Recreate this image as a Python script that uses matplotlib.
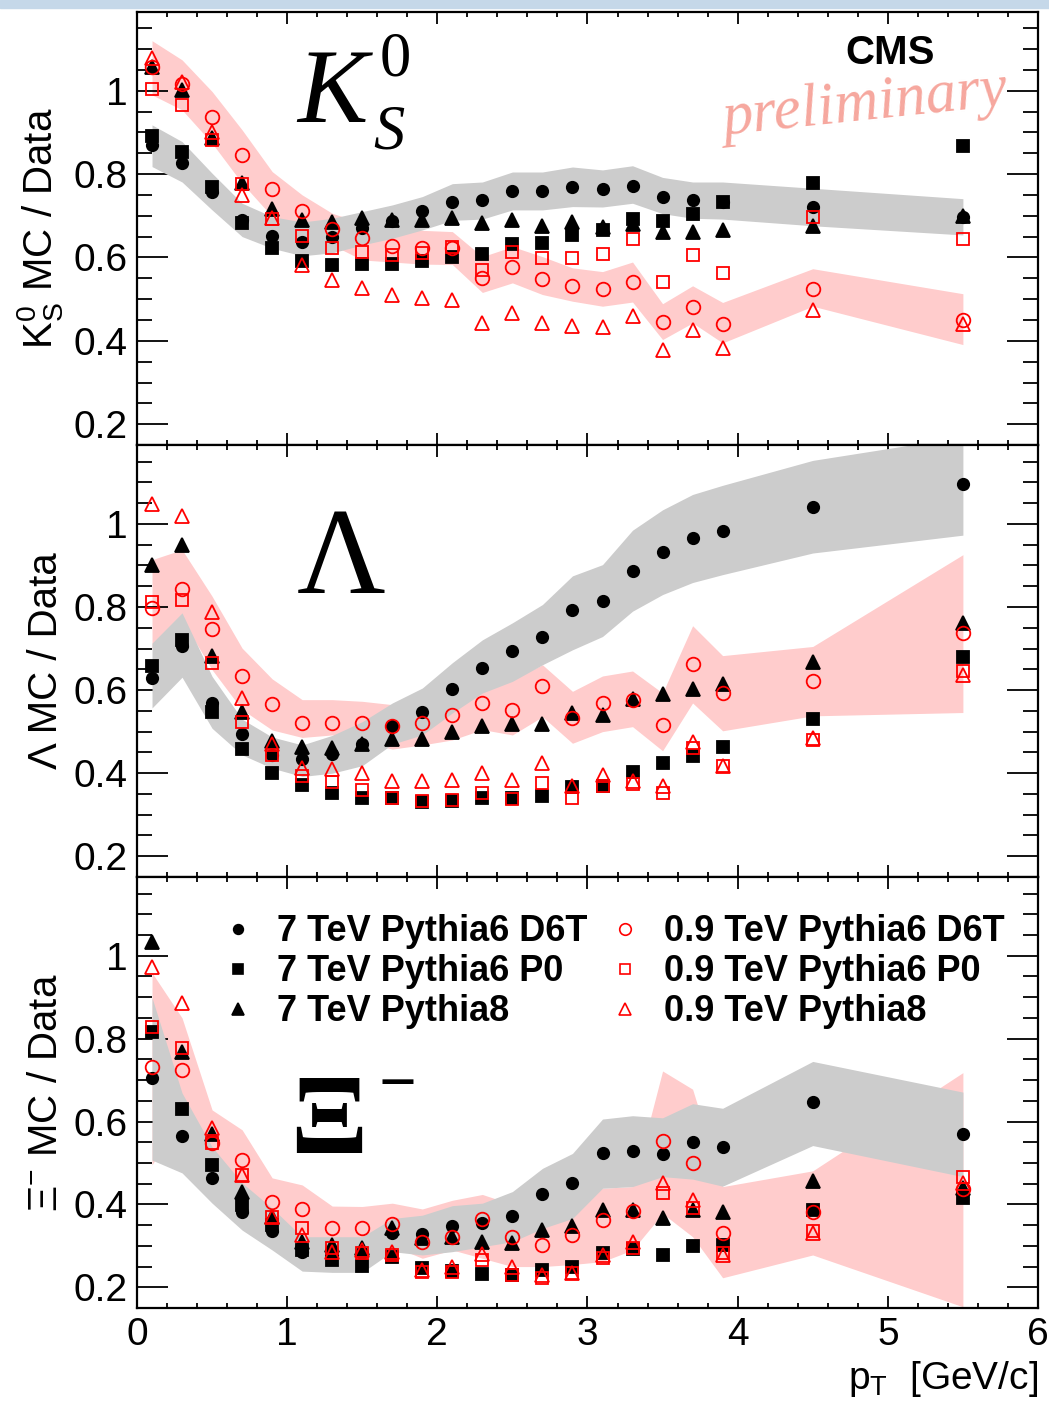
import matplotlib
matplotlib.use('Agg')
import matplotlib.pyplot as plt
from matplotlib.ticker import MultipleLocator, FormatStrFormatter
from matplotlib.lines import Line2D
from matplotlib.patches import Rectangle

plt.rcParams['font.family'] = 'Liberation Sans'
plt.rcParams['mathtext.fontset'] = 'custom'
plt.rcParams['mathtext.rm'] = 'Liberation Sans'
plt.rcParams['mathtext.it'] = 'Liberation Sans:italic'
plt.rcParams['mathtext.bf'] = 'Liberation Sans:bold'

# pT bin centres
pt = [0.1, 0.3, 0.5, 0.7, 0.9, 1.1, 1.3, 1.5, 1.7, 1.9, 2.1,
      2.3, 2.5, 2.7, 2.9, 3.1, 3.3, 3.5, 3.7, 3.9, 4.5, 5.5]

labels = ['7 TeV Pythia6 D6T', '7 TeV Pythia6 P0', '7 TeV Pythia8',
          '0.9 TeV Pythia6 D6T', '0.9 TeV Pythia6 P0', '0.9 TeV Pythia8']

# ---- K0S ----
k_d6t_7 = [0.870, 0.826, 0.758, 0.691, 0.652, 0.637, 0.648, 0.670, 0.688, 0.712, 0.733,
           0.738, 0.760, 0.760, 0.770, 0.765, 0.772, 0.746, 0.737, 0.734, 0.722, 0.697]
k_p0_7 = [0.891, 0.854, 0.768, 0.682, 0.622, 0.592, 0.583, 0.585, 0.585, 0.592, 0.602,
          0.608, 0.632, 0.634, 0.653, 0.665, 0.693, 0.688, 0.705, 0.733, 0.778, 0.868]
k_p8_7 = [1.056, 1.002, 0.886, 0.778, 0.716, 0.689, 0.686, 0.694, 0.690, 0.689, 0.694,
          0.682, 0.690, 0.676, 0.685, 0.674, 0.680, 0.660, 0.662, 0.666, 0.676, 0.700]
k_d6t_09 = [1.057, 1.016, 0.938, 0.845, 0.765, 0.711, 0.668, 0.646, 0.628, 0.622, 0.622,
            0.551, 0.577, 0.548, 0.532, 0.524, 0.541, 0.446, 0.482, 0.440, 0.524, 0.451]
k_p0_09 = [1.003, 0.966, 0.882, 0.776, 0.693, 0.652, 0.622, 0.613, 0.607, 0.611, 0.624,
           0.571, 0.612, 0.599, 0.599, 0.608, 0.645, 0.540, 0.607, 0.563, 0.696, 0.644]
k_p8_09 = [1.079, 1.022, 0.900, 0.750, 0.695, 0.583, 0.547, 0.527, 0.509, 0.503, 0.497,
           0.443, 0.467, 0.443, 0.436, 0.434, 0.460, 0.379, 0.425, 0.383, 0.475, 0.440]
k_gray_hi = [0.918, 0.878, 0.802, 0.730, 0.698, 0.685, 0.694, 0.710, 0.726, 0.746, 0.777,
             0.781, 0.805, 0.805, 0.817, 0.810, 0.820, 0.792, 0.781, 0.781, 0.766, 0.741]
k_gray_lo = [0.818, 0.781, 0.714, 0.650, 0.622, 0.604, 0.611, 0.630, 0.646, 0.666, 0.689,
             0.692, 0.714, 0.714, 0.722, 0.721, 0.730, 0.705, 0.694, 0.692, 0.676, 0.654]
k_red_hi = [1.120, 1.074, 0.998, 0.906, 0.806, 0.750, 0.706, 0.682, 0.672, 0.665, 0.662,
            0.602, 0.626, 0.602, 0.575, 0.566, 0.589, 0.489, 0.532, 0.492, 0.573, 0.513]
k_red_lo = [0.990, 0.954, 0.874, 0.778, 0.698, 0.650, 0.630, 0.594, 0.589, 0.584, 0.583,
            0.516, 0.539, 0.511, 0.495, 0.483, 0.493, 0.403, 0.443, 0.395, 0.483, 0.391]

# ---- Lambda ----
l_d6t_7 = [0.629, 0.707, 0.569, 0.495, 0.444, 0.434, 0.447, 0.471, 0.514, 0.547, 0.602,
           0.653, 0.695, 0.728, 0.792, 0.814, 0.887, 0.932, 0.965, 0.983, 1.041, 1.095]
l_p0_7 = [0.659, 0.721, 0.548, 0.458, 0.400, 0.372, 0.352, 0.340, 0.340, 0.330, 0.334,
          0.340, 0.341, 0.344, 0.366, 0.368, 0.402, 0.425, 0.442, 0.462, 0.530, 0.680]
l_p8_7 = [0.902, 0.950, 0.683, 0.548, 0.478, 0.463, 0.460, 0.470, 0.482, 0.482, 0.500,
          0.514, 0.519, 0.519, 0.545, 0.539, 0.578, 0.591, 0.602, 0.614, 0.667, 0.761]
l_d6t_09 = [0.798, 0.843, 0.747, 0.633, 0.567, 0.520, 0.520, 0.520, 0.514, 0.520, 0.540,
            0.569, 0.553, 0.611, 0.532, 0.569, 0.577, 0.516, 0.663, 0.593, 0.622, 0.737]
l_p0_09 = [0.812, 0.816, 0.665, 0.522, 0.444, 0.393, 0.378, 0.360, 0.340, 0.332, 0.336,
           0.352, 0.338, 0.376, 0.340, 0.370, 0.373, 0.352, 0.460, 0.418, 0.480, 0.645]
l_p8_09 = [1.048, 1.020, 0.789, 0.582, 0.470, 0.412, 0.410, 0.400, 0.382, 0.380, 0.384,
           0.401, 0.384, 0.425, 0.370, 0.396, 0.380, 0.368, 0.476, 0.418, 0.484, 0.637]
l_gray_hi = [0.713, 0.786, 0.633, 0.530, 0.487, 0.468, 0.491, 0.524, 0.569, 0.605, 0.666,
             0.721, 0.762, 0.806, 0.875, 0.902, 0.985, 1.034, 1.071, 1.093, 1.153, 1.210]
l_gray_lo = [0.557, 0.631, 0.508, 0.444, 0.412, 0.392, 0.400, 0.418, 0.470, 0.492, 0.545,
             0.593, 0.621, 0.661, 0.697, 0.729, 0.790, 0.830, 0.859, 0.878, 0.930, 0.973]
l_red_hi = [0.914, 0.938, 0.826, 0.701, 0.627, 0.577, 0.577, 0.573, 0.565, 0.580, 0.600,
            0.620, 0.625, 0.661, 0.597, 0.634, 0.646, 0.593, 0.755, 0.683, 0.705, 0.926]
l_red_lo = [0.700, 0.770, 0.649, 0.553, 0.504, 0.486, 0.492, 0.475, 0.458, 0.468, 0.480,
            0.505, 0.492, 0.536, 0.472, 0.500, 0.512, 0.454, 0.569, 0.502, 0.538, 0.546]

# ---- Xi- ----
x_d6t_7 = [0.705, 0.565, 0.463, 0.382, 0.336, 0.286, 0.278, 0.282, 0.330, 0.328, 0.348,
           0.354, 0.373, 0.424, 0.451, 0.523, 0.529, 0.521, 0.551, 0.538, 0.646, 0.569]
x_p0_7 = [0.817, 0.631, 0.496, 0.399, 0.350, 0.290, 0.266, 0.252, 0.274, 0.246, 0.240,
          0.232, 0.229, 0.242, 0.250, 0.282, 0.292, 0.278, 0.300, 0.302, 0.386, 0.416]
x_p8_7 = [1.033, 0.768, 0.571, 0.431, 0.370, 0.310, 0.302, 0.296, 0.342, 0.318, 0.322,
          0.310, 0.308, 0.338, 0.349, 0.386, 0.386, 0.368, 0.386, 0.381, 0.457, 0.439]
x_d6t_09 = [0.732, 0.725, 0.549, 0.507, 0.407, 0.388, 0.344, 0.344, 0.352, 0.310, 0.322,
            0.366, 0.322, 0.302, 0.326, 0.362, 0.385, 0.554, 0.501, 0.330, 0.381, 0.436]
x_p0_09 = [0.829, 0.778, 0.548, 0.472, 0.370, 0.342, 0.294, 0.282, 0.278, 0.236, 0.237,
           0.266, 0.229, 0.222, 0.234, 0.270, 0.294, 0.427, 0.391, 0.282, 0.336, 0.465]
x_p8_09 = [0.974, 0.886, 0.584, 0.472, 0.370, 0.326, 0.286, 0.290, 0.286, 0.242, 0.250,
           0.280, 0.250, 0.229, 0.234, 0.278, 0.310, 0.451, 0.411, 0.278, 0.330, 0.451]
x_gray_hi = [0.899, 0.669, 0.539, 0.452, 0.391, 0.322, 0.322, 0.322, 0.366, 0.374, 0.397,
             0.403, 0.431, 0.487, 0.523, 0.606, 0.614, 0.609, 0.643, 0.632, 0.745, 0.671]
x_gray_lo = [0.507, 0.476, 0.403, 0.338, 0.290, 0.239, 0.236, 0.236, 0.286, 0.278, 0.286,
             0.298, 0.310, 0.342, 0.366, 0.439, 0.443, 0.467, 0.461, 0.444, 0.542, 0.467]
x_red_hi = [0.959, 0.850, 0.628, 0.580, 0.464, 0.447, 0.396, 0.395, 0.403, 0.389, 0.410,
            0.424, 0.400, 0.400, 0.400, 0.439, 0.443, 0.722, 0.678, 0.443, 0.481, 0.718]
x_red_lo = [0.495, 0.620, 0.470, 0.420, 0.360, 0.320, 0.310, 0.310, 0.300, 0.270, 0.290,
            0.270, 0.250, 0.250, 0.255, 0.262, 0.290, 0.378, 0.322, 0.223, 0.278, 0.153]

# marker, colour, filled, size
styles = [('o', 'black', True, 8.2), ('s', 'black', True, 8.5), ('^', 'black', True, 9.5),
          ('o', 'red', False, 9.8), ('s', 'red', False, 9.0), ('^', 'red', False, 10.0)]

fig = plt.figure(figsize=(10.49, 14.03), dpi=100)
fig.patches.append(Rectangle((0, 1 - 8 / 1403), 1, 8 / 1403, transform=fig.transFigure,
                             color='#c5d8e9', zorder=0))

L, W = 0.1306, 0.8589
ax1 = fig.add_axes([L, 0.6828, W, 0.3090])
ax2 = fig.add_axes([L, 0.3749, W, 0.3079])
ax3 = fig.add_axes([L, 0.0677, W, 0.3072])


def draw_panel(ax, red_lo, red_hi, gray_lo, gray_hi, series, ylab):
    ax.fill_between(pt, red_lo, red_hi, color='#ffcccc', lw=0, zorder=1)
    ax.fill_between(pt, gray_lo, gray_hi, color='#cccccc', lw=0, zorder=2)
    for vals, (m, c, filled, ms) in zip(series, styles):
        ax.plot(pt, vals, ls='none', marker=m, ms=ms, mec=c,
                mfc=c if filled else 'none', mew=1.3, zorder=3)
    ax.set_xlim(0, 6)
    ax.set_ylim(0.15, 1.19)
    ax.xaxis.set_major_locator(MultipleLocator(1))
    ax.xaxis.set_minor_locator(MultipleLocator(0.2))
    ax.yaxis.set_major_locator(MultipleLocator(0.2))
    ax.yaxis.set_minor_locator(MultipleLocator(0.05))
    ax.yaxis.set_major_formatter(FormatStrFormatter('%g'))
    ax.tick_params(which='both', direction='in', top=True, right=True, width=1.3,
                   labelsize=28, pad=6.5)
    ax.tick_params(axis='y', which='major', length=22)
    ax.tick_params(axis='y', which='minor', length=11)
    ax.tick_params(axis='x', which='major', length=8.5)
    ax.tick_params(axis='x', which='minor', length=3.5)
    for s in ax.spines.values():
        s.set_linewidth(1.6)
    ax.set_ylabel(ylab, fontsize=29)
    ax.yaxis.set_label_coords(-0.080, 0.5)


draw_panel(ax1, k_red_lo, k_red_hi, k_gray_lo, k_gray_hi,
           [k_d6t_7, k_p0_7, k_p8_7, k_d6t_09, k_p0_09, k_p8_09],
           r'K$^{0}_{\mathrm{S}}$ MC / Data')
draw_panel(ax2, l_red_lo, l_red_hi, l_gray_lo, l_gray_hi,
           [l_d6t_7, l_p0_7, l_p8_7, l_d6t_09, l_p0_09, l_p8_09],
           'Λ MC / Data')
draw_panel(ax3, x_red_lo, x_red_hi, x_gray_lo, x_gray_hi,
           [x_d6t_7, x_p0_7, x_p8_7, x_d6t_09, x_p0_09, x_p8_09],
           r'Ξ$^{-}$ MC / Data')

ax1.tick_params(axis='x', labelbottom=False)
ax2.tick_params(axis='x', labelbottom=False)
ax3.set_xlabel(r'p$_{\mathrm{T}}$  [GeV/c]', fontsize=28, loc='right', labelpad=4)

# particle symbols
serif = 'Liberation Serif'
ax1.text(0.1776, 0.745, 'K', transform=ax1.transAxes, fontsize=76, family=serif,
         style='italic', ha='left', va='baseline')
ax1.text(0.2697, 0.8535, '0', transform=ax1.transAxes, fontsize=45, family=serif,
         ha='left', va='baseline')
ax1.text(0.262, 0.685, 'S', transform=ax1.transAxes, fontsize=45, family=serif,
         style='italic', ha='left', va='baseline')
ax2.text(0.1776, 0.657, 'Λ', transform=ax2.transAxes, fontsize=88, family=serif,
         ha='left', va='baseline')
ax3.text(0.170, 0.3596, 'Ξ', transform=ax3.transAxes, fontsize=82, family=serif,
         weight='bold', ha='left', va='baseline')
ax3.text(0.268, 0.512, '−', transform=ax3.transAxes, fontsize=48, family=serif,
         weight='bold', ha='left', va='center')

ax1.text(0.786, 0.879, 'CMS', transform=ax1.transAxes, fontsize=29, weight='bold',
         ha='left', va='baseline')
ax1.text(0.808, 0.784, 'preliminary', transform=ax1.transAxes, fontsize=44,
         family=serif, style='italic', color='#f6a79e', rotation=6,
         ha='center', va='center')

# legend, two columns
handles = [Line2D([], [], ls='none', marker=m, ms=ms * 0.85, mec=c,
                  mfc=c if f else 'none', mew=1.2) for (m, c, f, ms) in styles]
leg_kw = dict(frameon=False, handlelength=0.8, handletextpad=0.68,
              labelspacing=0.14, borderpad=0.0, borderaxespad=0.0, loc='upper left',
              prop={'weight': 'bold', 'size': 26})
leg1 = ax3.legend(handles[:3], labels[:3], bbox_to_anchor=(0.0961, 0.9135), **leg_kw)
ax3.add_artist(leg1)
ax3.legend(handles[3:], labels[3:], bbox_to_anchor=(0.5256, 0.9135), **leg_kw)

fig.savefig('out.png', dpi=100)
